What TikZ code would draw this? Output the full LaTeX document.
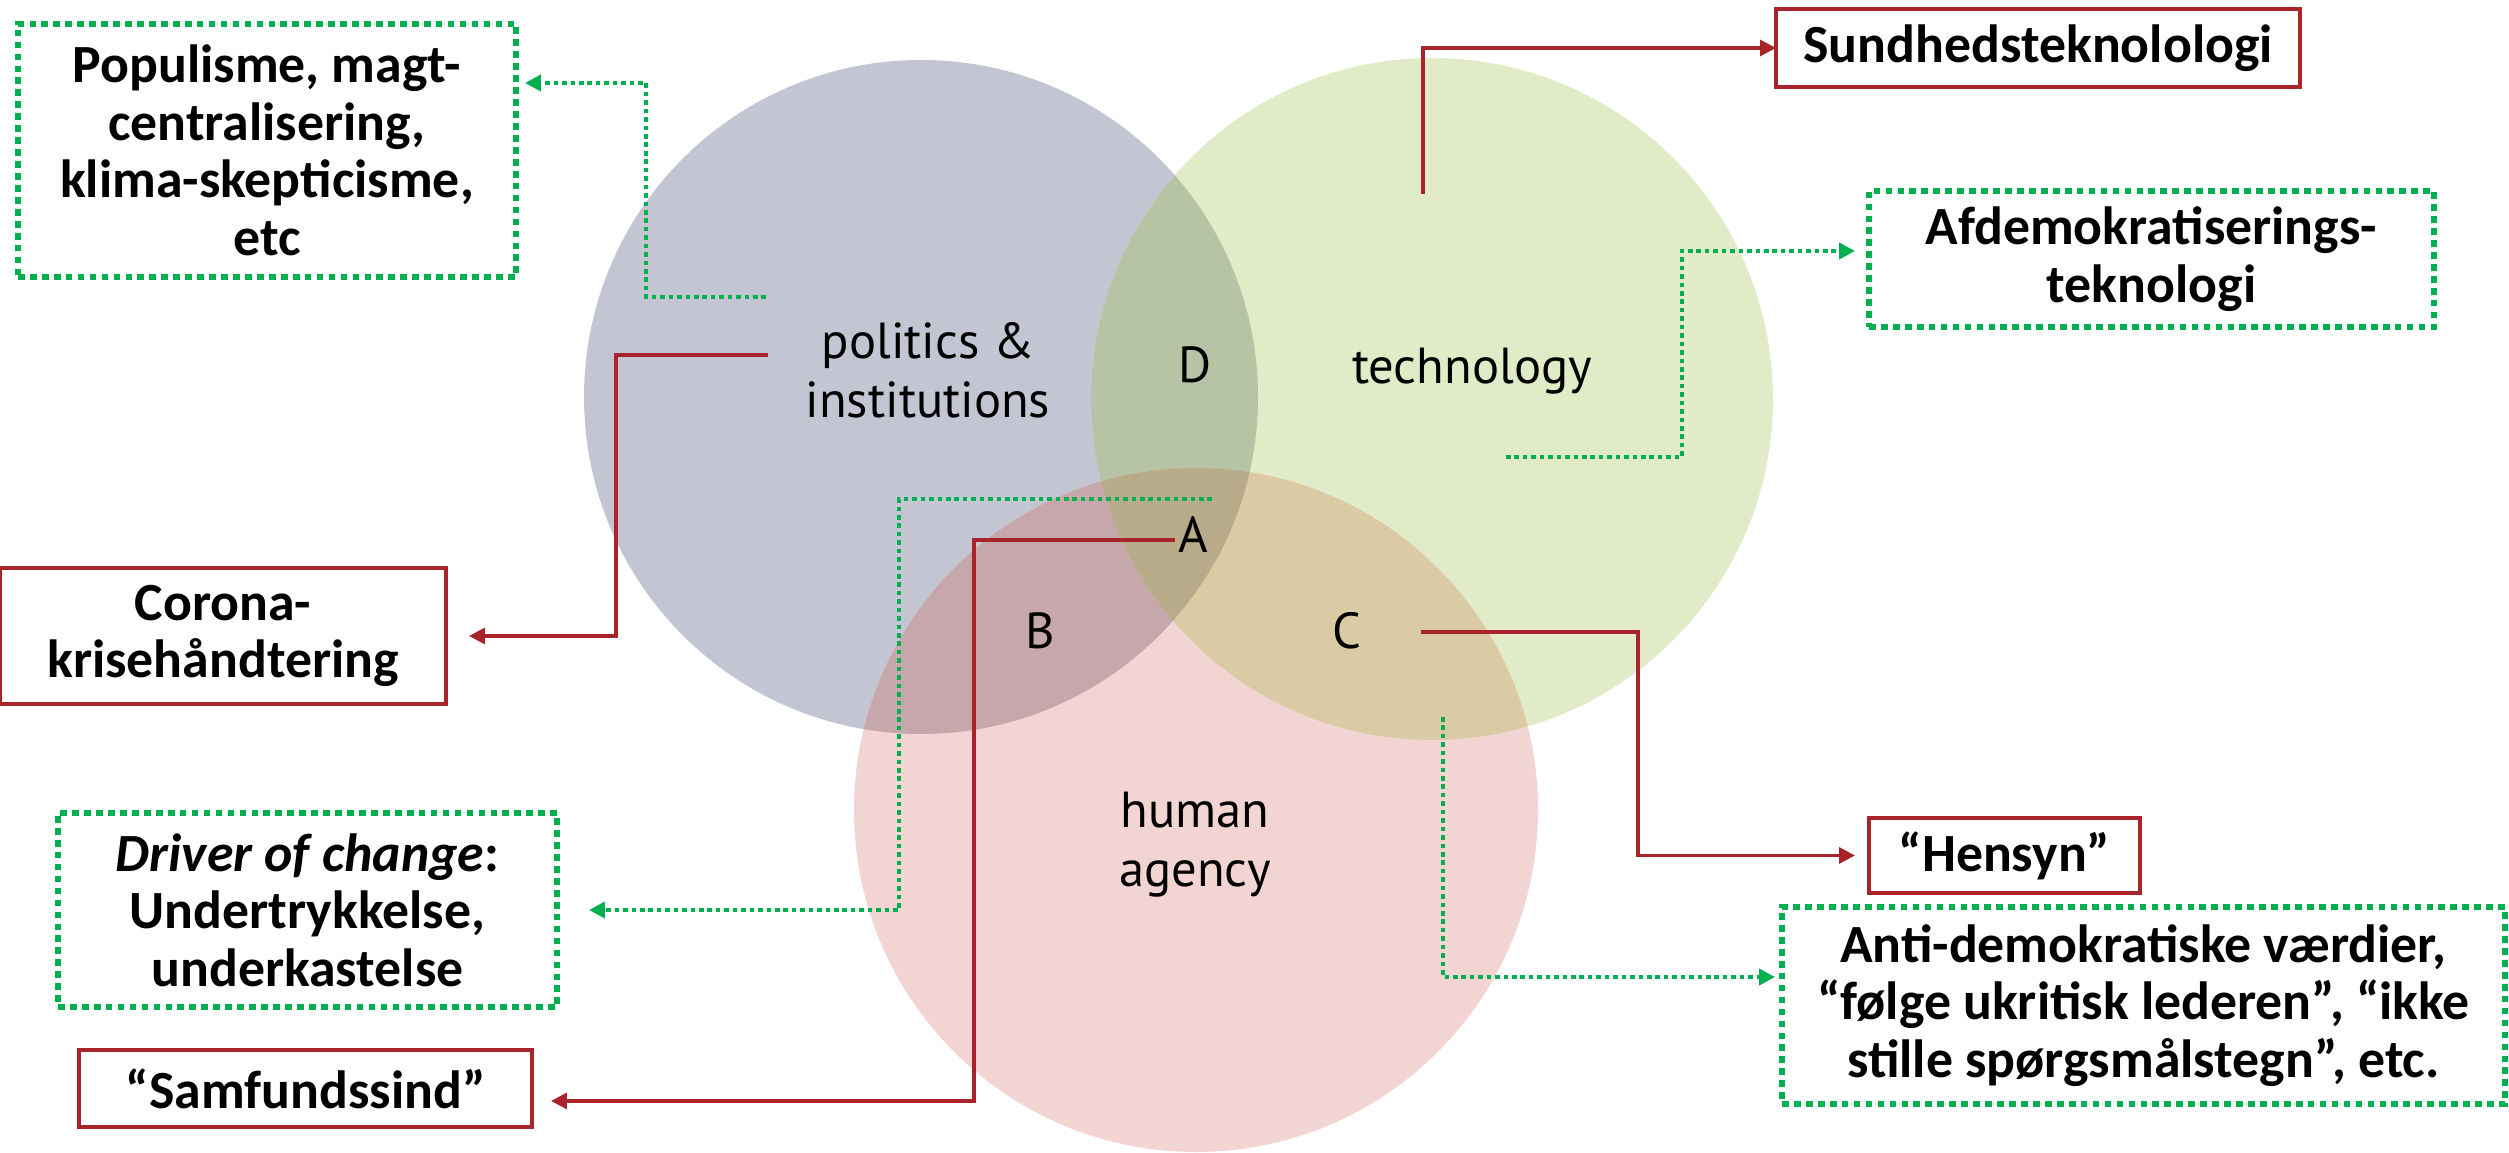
\documentclass[tikz,border=0pt]{standalone}
\usepackage{fontspec}
\setmainfont{Carlito}
\newfontfamily\dinfont{PT Sans}
\usepackage{xcolor}
\usepackage{tikz}
\usetikzlibrary{
    arrows.meta,
    positioning,
    calc
}
\definecolor{linered}{HTML}{A8232A}
\definecolor{linegreen}{HTML}{00B050}
\definecolor{polfill}{HTML}{C3C5D2}
\definecolor{techfill}{HTML}{E2EBC8}
\definecolor{humfill}{HTML}{F2D4D2}
\definecolor{ptfill}{HTML}{B6C3A5}
\definecolor{phfill}{HTML}{C6A8AC}
\definecolor{thfill}{HTML}{DBCBA4}
\definecolor{allfill}{HTML}{B8AB8A}
\newcommand{\boxfont}{\fontsize{15.3}{16.4}\selectfont\bfseries}
\newcommand{\vennfont}{\dinfont\fontsize{14.4}{16.8}\selectfont}
\tikzset{redbox/.style={
    draw=linered,
    line width=0.9pt,
    inner sep=0pt,
    outer sep=0pt,
    align=center,
    font=\boxfont,
}}
\tikzset{greenbox/.style={
    draw=linegreen,
    line width=1.5pt,
    dash pattern=on 1.9pt off 1.5pt,
    inner sep=0pt,
    outer sep=0pt,
    align=center,
    font=\boxfont,
}}
\tikzset{venn/.style={
    align=center,
    inner sep=0pt,
    font=\vennfont,
}}
\tikzset{redarrow/.style={
    -{Triangle[length=4.5pt,width=4.5pt]},
    draw=linered,
    line width=0.9pt,
}}
\tikzset{greenarrow/.style={
    -{Triangle[length=4.5pt,width=4.5pt]},
    draw=linegreen,
    line width=1.15pt,
    dash pattern=on 1.3pt off 1.1pt,
}}

\begin{document}
\begin{tikzpicture}
    \useasboundingbox (0,0) rectangle (25.09,-11.53);

    % the three circles
    \coordinate (polc) at (9.21,-3.97);
    \coordinate (techc) at (14.32,-3.99);
    \coordinate (humc) at (11.96,-8.10);
    \fill[polfill] (polc) circle (3.37);
    \fill[techfill] (techc) circle (3.41);
    \fill[humfill] (humc) circle (3.42);
    \begin{scope}
        \clip (polc) circle (3.37);
        \fill[ptfill] (techc) circle (3.41);
        \fill[phfill] (humc) circle (3.42);
    \end{scope}
    \begin{scope}
        \clip (techc) circle (3.41);
        \fill[thfill] (humc) circle (3.42);
    \end{scope}
    \begin{scope}
        \clip (polc) circle (3.37);
        \clip (techc) circle (3.41);
        \fill[allfill] (humc) circle (3.42);
    \end{scope}

    % circle labels
    \node[venn] (pol) at (9.28,-3.70) {politics \&\\institutions};
    \node[venn] (tech) at (14.72,-3.71) {technology};
    \node[venn] (hum) at (11.95,-8.45) {human\\agency};
    \node[venn] (d) at (11.95,-3.65) {D};
    \node[venn] (a) at (11.93,-5.35) {A};
    \node[venn] (b) at (10.40,-6.31) {B};
    \node[venn] (c) at (13.47,-6.31) {C};

    % boxes
    \node[greenbox, minimum width=4.98cm, minimum height=2.53cm] (pop) at (2.67,-1.505)
        {Populisme, magt-\\centralisering,\\klima-skepticisme,\\etc};
    \node[redbox, minimum width=5.24cm, minimum height=0.78cm] (sund) at (20.38,-0.48)
        {Sundhedsteknolologi};
    \node[greenbox, minimum width=5.65cm, minimum height=1.36cm] (afd) at (21.515,-2.59)
        {Afdemokratiserings-\\teknologi};
    \node[redbox, minimum width=4.46cm, minimum height=1.36cm] (cor) at (2.23,-6.36)
        {Corona-\\krisehåndtering};
    \node[greenbox, minimum width=4.99cm, minimum height=1.94cm] (drv) at (3.075,-9.10)
        {\textit{Driver of change}:\\Undertrykkelse,\\underkastelse};
    \node[redbox, minimum width=4.53cm, minimum height=0.77cm] (sam) at (3.055,-10.885)
        {“Samfundssind”};
    \node[redbox, minimum width=2.71cm, minimum height=0.75cm] (hen) at (20.045,-8.555)
        {“Hensyn”};
    \node[greenbox, minimum width=7.23cm, minimum height=1.97cm] (anti) at (21.435,-10.055)
        {Anti-demokratiske værdier,\\“følge ukritisk lederen”, “ikke\\stille spørgsmålstegn”, etc.};

    % connectors
    \coordinate (polout) at (7.68,-3.55);
    \coordinate (polbend) at (6.16,-3.55);
    \draw[redarrow, shorten >=0.23cm] (polout) -- (polbend) |- (cor.east);

    \coordinate (polgreen) at (7.66,-2.97);
    \coordinate (popbend) at (6.46,-2.97);
    \draw[greenarrow, shorten >=0.09cm] (polgreen) -- (popbend) |- ([yshift=0.675cm]pop.east);

    \coordinate (techout) at (14.23,-1.94);
    \draw[redarrow] (techout) |- (sund.west);

    \coordinate (techgreen) at (15.06,-4.57);
    \coordinate (afdbend) at (16.82,-2.51);
    \draw[greenarrow, shorten >=0.14cm] (techgreen) -| (afdbend) -- (afdbend -| afd.west);

    \coordinate (agreen) at (12.12,-4.99);
    \coordinate (abend) at (8.99,-4.99);
    \draw[greenarrow, shorten >=0.32cm] (agreen) -- (abend) |- (drv.east);

    \coordinate (ared) at (11.75,-5.40);
    \coordinate (arbend) at (9.74,-5.40);
    \draw[redarrow, shorten >=0.19cm] (ared) -- (arbend) |- ([yshift=-0.125cm]sam.east);

    \coordinate (cred) at (14.21,-6.32);
    \coordinate (crbend) at (16.38,-6.32);
    \draw[redarrow, shorten >=0.14cm] (cred) -- (crbend) |- (hen.west);

    \coordinate (cgreen) at (14.43,-7.17);
    \draw[greenarrow, shorten >=0.07cm] (cgreen) |- ([yshift=0.285cm]anti.west);
\end{tikzpicture}
\end{document}
